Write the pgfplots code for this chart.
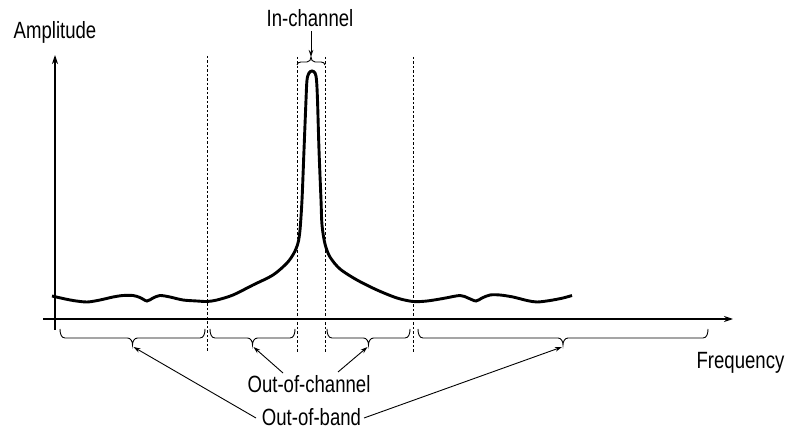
\documentclass[border=0pt]{standalone}
\usepackage{fontspec}
\setmainfont{Liberation Sans}[FakeStretch=0.79]
\usepackage{pgfplots}
\pgfplotsset{compat=1.18}
\usetikzlibrary{arrows.meta}
\newcommand{\bbrace}[3]{%
  \draw[black, line width=0.9pt] (axis cs:#1,329) to[out=-90,in=180] (axis cs:#1+5,338)
    -- (axis cs:#3-5,338) to[out=0,in=90] (axis cs:#3,345)
    to[out=90,in=180] (axis cs:#3+5,338) -- (axis cs:#2-5,338)
    to[out=0,in=-90] (axis cs:#2,329);}
\begin{document}
\begin{tikzpicture}[font=\fontsize{23.5}{27}\selectfont]
\begin{axis}[scale only axis, width=785pt, height=430pt,
  xmin=0, xmax=785, ymin=0, ymax=430, y dir=reverse,
  hide axis, clip=false]
\path (axis cs:0,0) rectangle (axis cs:785,430);
% axes
\addplot[black, line width=1.2pt, -{Stealth[length=9pt,width=6pt]}] coordinates {(55,330) (55,55)};
\addplot[black, line width=1.2pt, -{Stealth[length=9pt,width=6pt]}] coordinates {(43,319) (733,319)};
% dotted separators
\addplot[black, line width=1pt, dash pattern=on 2.5pt off 2pt] coordinates {(207,56) (207,352)};
\addplot[black, line width=1pt, dash pattern=on 2.5pt off 2pt] coordinates {(297,57) (297,352)};
\addplot[black, line width=1pt, dash pattern=on 2.5pt off 2pt] coordinates {(325.5,57) (325.5,352)};
\addplot[black, line width=1pt, dash pattern=on 2.5pt off 2pt] coordinates {(413,57) (413,352)};
% spectrum
\addplot[black, line width=2.9pt, smooth, tension=0.5] coordinates {
(52,296) (63,298.5) (73,300.5) (87,302) (100,300) (113,297) (123,295.5) (133,295.5)
(140,297.5) (147,301) (153,298) (160,295.5) (170,297) (183,300) (197,301) (207,301.5)
(217,300) (233,295) (253,285) (273,275) (287,263) (294,253) (298,243) (300,230)
(302,200) (304,150) (306,100) (307,80) (309,73) (312,71) (315,73) (316.5,80)
(317.5,100) (319,150) (321,200) (322,225) (325,244) (330,257) (340,269) (357,280)
(377,290) (397,298) (413,301.5) (427,301) (443,298.5) (460,295.5) (468,298) (476,301)
(482,298) (490,295) (500,295) (513,297) (527,300.5) (537,302) (550,300.5) (563,298) (572,295.5)};
% top brace
\draw[black, line width=0.9pt] (axis cs:297,65) to[out=90,in=180] (axis cs:301,62)
  -- (axis cs:307,62) to[out=0,in=-90] (axis cs:311,57)
  to[out=-90,in=180] (axis cs:315,62) -- (axis cs:321,62)
  to[out=0,in=90] (axis cs:325,65);
% bottom braces
\bbrace{60}{205}{132.5}
\bbrace{210}{295}{252.5}
\bbrace{327}{410}{368.5}
\bbrace{418}{708}{563}
% pointer arrows
\draw[black, line width=0.9pt, -{Stealth[length=7pt,width=4.5pt]}] (axis cs:311,31) -- (axis cs:311,57);
\draw[black, line width=0.9pt, -{Stealth[length=7pt,width=4.5pt]}] (axis cs:283,373) -- (axis cs:253.5,347);
\draw[black, line width=0.9pt, -{Stealth[length=7pt,width=4.5pt]}] (axis cs:338,372) -- (axis cs:367.5,347);
\draw[black, line width=0.9pt, -{Stealth[length=7pt,width=4.5pt]}] (axis cs:256,418) -- (axis cs:133.5,347);
\draw[black, line width=0.9pt, -{Stealth[length=7pt,width=4.5pt]}] (axis cs:364,418) -- (axis cs:562,347);
% labels
\node[anchor=base, inner sep=0pt] at (axis cs:55,39) {Amplitude};
\node[anchor=base, inner sep=0pt] at (axis cs:310,27) {In-channel};
\node[anchor=base, inner sep=0pt] at (axis cs:740.5,369) {Frequency};
\node[anchor=base, inner sep=0pt] at (axis cs:309,392) {Out-of-channel};
\node[anchor=base, inner sep=0pt] at (axis cs:311.5,425) {Out-of-band};
\end{axis}
\end{tikzpicture}
\end{document}
